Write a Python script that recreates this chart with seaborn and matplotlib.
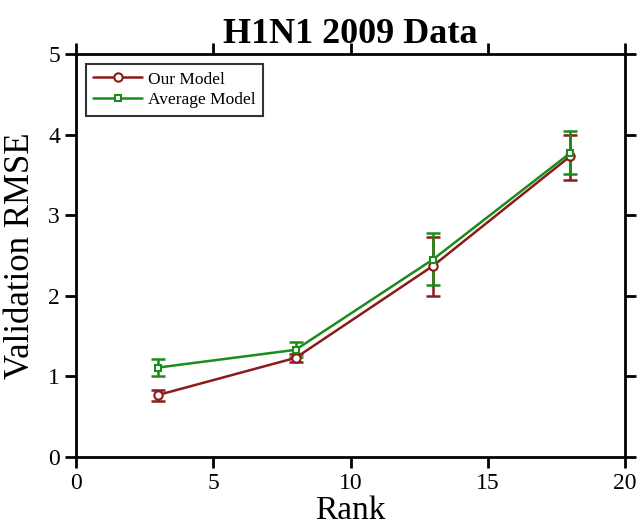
import matplotlib
matplotlib.use("Agg")
import matplotlib.pyplot as plt
import seaborn as sns
import pandas as pd
from matplotlib.lines import Line2D

ranks = [3, 8, 13, 18]
our_model = [0.77, 1.23, 2.37, 3.73]
our_err_low = [0.07, 0.05, 0.37, 0.29]
our_err_high = [0.06, 0.05, 0.36, 0.27]
avg_model = [1.11, 1.33, 2.45, 3.77]
avg_err_low = [0.10, 0.09, 0.32, 0.26]
avg_err_high = [0.10, 0.10, 0.33, 0.27]

sns.set_style("ticks")
plt.rcParams['font.family'] = ['Liberation Serif', 'DejaVu Serif']
plt.rcParams['text.color'] = 'black'
plt.rcParams['axes.labelcolor'] = 'black'
plt.rcParams['xtick.color'] = 'black'
plt.rcParams['ytick.color'] = 'black'

red = "#8b1a1a"
green = "#1a8c1a"

df_our = pd.DataFrame({"Rank": ranks, "RMSE": our_model})
df_avg = pd.DataFrame({"Rank": ranks, "RMSE": avg_model})

fig = plt.figure(figsize=(6.37, 5.29), dpi=100)
ax = fig.add_axes([76 / 637, 1 - 457 / 529, (625 - 76) / 637, (457 - 54) / 529])

ax.errorbar(ranks, our_model, yerr=[our_err_low, our_err_high], fmt="none",
            ecolor=red, elinewidth=1.8, capsize=5, capthick=1.8, zorder=2)
ax.errorbar(ranks, avg_model, yerr=[avg_err_low, avg_err_high], fmt="none",
            ecolor=green, elinewidth=1.8, capsize=5, capthick=1.8, zorder=2)

sns.lineplot(data=df_our, x="Rank", y="RMSE", color=red, marker="o",
             markerfacecolor="white", markeredgecolor=red, markersize=6,
             markeredgewidth=1.5, linewidth=1.8, ax=ax, zorder=3)
sns.lineplot(data=df_avg, x="Rank", y="RMSE", color=green, marker="s",
             markerfacecolor="white", markeredgecolor=green, markersize=5,
             markeredgewidth=1.5, linewidth=1.8, ax=ax, zorder=4)

handles = [
    Line2D([], [], color=red, marker="o", markerfacecolor="white", markersize=6,
           markeredgewidth=1.5, linewidth=1.8, label="Our Model"),
    Line2D([], [], color=green, marker="s", markerfacecolor="white", markersize=5,
           markeredgewidth=1.5, linewidth=1.8, label="Average Model"),
]
leg = ax.legend(handles=handles, loc="upper left", fontsize=12.5, frameon=True,
                fancybox=False, edgecolor="black", borderaxespad=0.55,
                handlelength=2.8, handletextpad=0.35, labelspacing=0.25,
                borderpad=0.45)
leg.get_frame().set_linewidth(1.5)
for t in leg.get_texts():
    t.set_color("black")

ax.set_xlim(0, 20)
ax.set_ylim(0, 5)
ax.set_xticks([0, 5, 10, 15, 20])
ax.set_yticks([0, 1, 2, 3, 4, 5])
for s in ax.spines.values():
    s.set_visible(True)
    s.set_linewidth(2)
    s.set_color("black")
ax.tick_params(direction="out", length=8, width=2, labelsize=17,
               top=True, right=True, colors="black")
ax.set_xlabel("Rank", fontsize=24, labelpad=1, color="black")
ax.set_ylabel("Validation RMSE", fontsize=25, labelpad=8, color="black")
ax.set_title("H1N1 2009 Data", fontsize=26, fontweight="bold", pad=8, color="black")

fig.savefig("out.png", dpi=100)
